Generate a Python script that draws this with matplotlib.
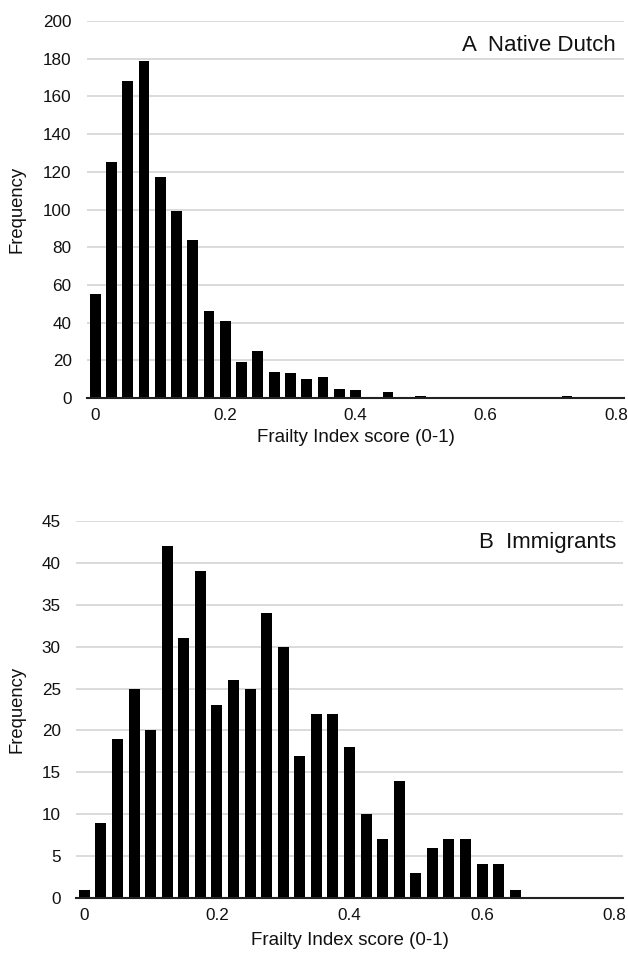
import matplotlib
matplotlib.use("Agg")
import matplotlib.pyplot as plt
import numpy as np

plt.rcParams['font.family'] = ['Liberation Sans', 'DejaVu Sans']

bins = [round(i * 0.025, 3) for i in range(33)]  # 0 .. 0.8

native_dutch = [55, 125, 168, 179, 117, 99, 84, 46, 41, 19, 25, 14, 13, 10, 11, 5, 4,
                0, 3, 0, 1, 0, 0, 0, 0, 0, 0, 0, 0, 1, 0, 0, 0]
immigrants = [1, 9, 19, 25, 20, 42, 31, 39, 23, 26, 25, 34, 30, 17, 22, 22, 18,
              10, 7, 14, 3, 6, 7, 7, 4, 4, 1, 0, 0, 0, 0, 0, 0]

xticks = [0, 0.2, 0.4, 0.6, 0.8]
xtick_labels = ["0", "0.2", "0.4", "0.6", "0.8"]
yticks_a = list(range(0, 201, 20))
yticks_b = list(range(0, 46, 5))

fig = plt.figure(figsize=(6.28, 9.55), dpi=100)
ax_a = fig.add_axes([87/628, 1-398/955, 537/628, 377/955])
ax_b = fig.add_axes([76/628, 1-898/955, 547/628, 377/955])

def style(ax, vals, yticks, title, tx, ty):
    ax.bar(bins, vals, width=0.0166, color='black', zorder=3)
    ax.set_xlim(-0.0125, 0.8125)
    ax.set_ylim(0, yticks[-1])
    ax.set_yticks(yticks)
    ax.set_yticklabels([str(v) for v in yticks], fontsize=12.3, color='#111111')
    ax.set_xticks(xticks)
    ax.set_xticklabels(xtick_labels, fontsize=12.3, color='#111111')
    ax.tick_params(axis='both', length=0)
    ax.tick_params(axis='x', pad=7)
    ax.tick_params(axis='y', pad=11)
    for s in ['top', 'right', 'left']:
        ax.spines[s].set_visible(False)
    ax.spines['bottom'].set_color('#222222')
    ax.spines['bottom'].set_linewidth(1.5)
    ax.spines['bottom'].set_zorder(4)
    ax.grid(axis='y', color='#dadada', linewidth=1.4, zorder=0)
    ax.set_axisbelow(True)
    ax.set_ylabel('Frequency', fontsize=13.3, color='#111111')
    ax.set_xlabel('Frailty Index score (0-1)', fontsize=13.5, color='#111111')
    ax.text(tx, ty, title, transform=ax.transAxes, ha='right', va='center',
            fontsize=16, color='#111111')

style(ax_a, native_dutch, yticks_a, 'A  Native Dutch', 0.985, 0.935)
style(ax_b, immigrants, yticks_b, 'B  Immigrants', 0.987, 0.944)

# label positions in figure pixels -> axes coords
ax_a.yaxis.set_label_coords((26-87)/537, 0.5)
ax_b.yaxis.set_label_coords((26-76)/547, 0.5)
ax_a.xaxis.set_label_coords(0.5, (398-429)/377)
ax_b.xaxis.set_label_coords(0.5, (898-932)/377)

fig.savefig('out.png', dpi=100)
